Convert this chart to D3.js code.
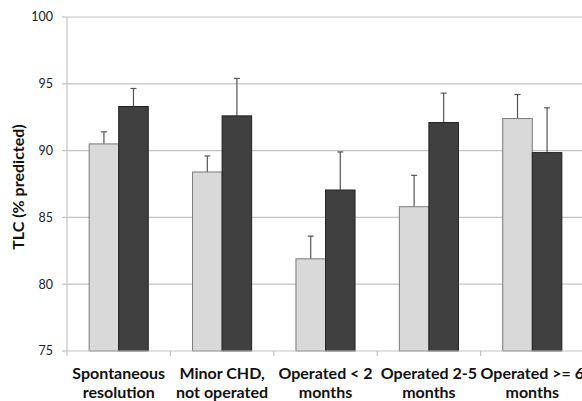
<!DOCTYPE html>
<html>
<head>
<meta charset="utf-8">
<script src="https://cdn.jsdelivr.net/npm/d3@7"></script>
<style>
  body { margin: 0; background: #fff; }
  svg { display: block; }
</style>
</head>
<body>
<div id="chart"></div>
<script>
// categories (two-line labels) and the two series
const categories = [
    ['Spontaneous', 'resolution'],
    ['Minor CHD,', 'not operated'],
    ['Operated < 2', 'months'],
    ['Operated 2-5', 'months'],
    ['Operated >= 6', 'months']
];
const lightValues = [90.5, 88.4, 81.9, 85.8, 92.4];
const lightErrors = [0.9, 1.2, 1.7, 2.35, 1.8];
const darkValues = [93.3, 92.6, 87.05, 92.1, 89.85];
const darkErrors = [1.35, 2.8, 2.85, 2.2, 3.35];
const yTicks = [75, 80, 85, 90, 95, 100];

const width = 582, height = 401;
const margin = { top: 17, right: -2, bottom: 50, left: 67 };
const font = 'Lato, sans-serif';

const svg = d3.select('#chart').append('svg')
    .attr('width', width)
    .attr('height', height);

const x = d3.scaleBand()
    .domain(d3.range(categories.length))
    .range([margin.left, width - margin.right])
    .paddingInner(0)
    .paddingOuter(0);

const y = d3.scaleLinear()
    .domain([75, 100])
    .range([height - margin.bottom, margin.top]);

// series bands inside each category (Excel gap width 150%)
const barW = x.bandwidth() / 3.5;
const gap = (x.bandwidth() - 2 * barW) / 2;

// gridlines
svg.append('g')
    .selectAll('line')
    .data(yTicks.slice(1))
    .enter().append('line')
    .attr('x1', margin.left)
    .attr('x2', width - margin.right)
    .attr('y1', d => y(d))
    .attr('y2', d => y(d))
    .attr('stroke', '#c4c4c4')
    .attr('stroke-width', 1.2);

// y axis line + ticks
svg.append('line')
    .attr('x1', margin.left).attr('x2', margin.left)
    .attr('y1', y(100)).attr('y2', y(75))
    .attr('stroke', '#c4c4c4').attr('stroke-width', 1.2);

svg.append('g')
    .selectAll('line')
    .data(yTicks)
    .enter().append('line')
    .attr('x1', margin.left - 5).attr('x2', margin.left)
    .attr('y1', d => y(d)).attr('y2', d => y(d))
    .attr('stroke', '#c4c4c4').attr('stroke-width', 1.2);

svg.append('g')
    .selectAll('text')
    .data(yTicks)
    .enter().append('text')
    .attr('x', margin.left - 14)
    .attr('y', d => y(d))
    .attr('dy', '0.35em')
    .attr('text-anchor', 'end')
    .style('font-family', font)
    .style('font-size', '12.5px')
    .style('fill', '#222')
    .text(d => d);

// y axis title
svg.append('text')
    .attr('transform', `translate(24, ${(y(75) + y(100)) / 2 + 3}) rotate(-90)`)
    .attr('text-anchor', 'middle')
    .style('font-family', font)
    .style('font-size', '16px')
    .style('font-weight', 'bold')
    .style('fill', '#111')
    .text('TLC (% predicted)');

// error bars (upper only), drawn behind bars
function errorBars(values, errors, offset) {
    const g = svg.append('g')
        .attr('stroke', '#555')
        .attr('stroke-width', 1.2);
    values.forEach((v, i) => {
        const cx = x(i) + offset + barW / 2;
        g.append('line')
            .attr('x1', cx).attr('x2', cx)
            .attr('y1', y(v)).attr('y2', y(v + errors[i]));
        g.append('line')
            .attr('x1', cx - 3).attr('x2', cx + 3)
            .attr('y1', y(v + errors[i])).attr('y2', y(v + errors[i]));
    });
}
errorBars(lightValues, lightErrors, gap);
errorBars(darkValues, darkErrors, gap + barW);

// bars
svg.append('g')
    .selectAll('rect')
    .data(lightValues)
    .enter().append('rect')
    .attr('x', (d, i) => x(i) + gap)
    .attr('y', d => y(d))
    .attr('width', barW)
    .attr('height', d => y(75) - y(d))
    .attr('fill', '#d9d9d9')
    .attr('stroke', '#7a7a7a')
    .attr('stroke-width', 1);

svg.append('g')
    .selectAll('rect')
    .data(darkValues)
    .enter().append('rect')
    .attr('x', (d, i) => x(i) + gap + barW)
    .attr('y', d => y(d))
    .attr('width', barW)
    .attr('height', d => y(75) - y(d))
    .attr('fill', '#404040')
    .attr('stroke', '#222')
    .attr('stroke-width', 1);

// x axis line + category boundary ticks
svg.append('line')
    .attr('x1', margin.left).attr('x2', width)
    .attr('y1', y(75)).attr('y2', y(75))
    .attr('stroke', '#c4c4c4').attr('stroke-width', 1.2);

svg.append('g')
    .selectAll('line')
    .data(d3.range(categories.length))
    .enter().append('line')
    .attr('x1', d => x(d)).attr('x2', d => x(d))
    .attr('y1', y(75)).attr('y2', y(75) + 5)
    .attr('stroke', '#c4c4c4').attr('stroke-width', 1.2);

// category labels
const labels = svg.append('g')
    .selectAll('text')
    .data(categories)
    .enter().append('text')
    .attr('text-anchor', 'middle')
    .style('font-family', font)
    .style('font-size', '16px')
    .style('font-weight', 'bold')
    .style('fill', '#111');

labels.each(function(d, i) {
    const cx = x(i) + x.bandwidth() / 2;
    d3.select(this).selectAll('tspan')
        .data(d)
        .enter().append('tspan')
        .attr('x', cx)
        .attr('y', (t, j) => 379 + j * 19)
        .text(t => t);
});
</script>
</body>
</html>
